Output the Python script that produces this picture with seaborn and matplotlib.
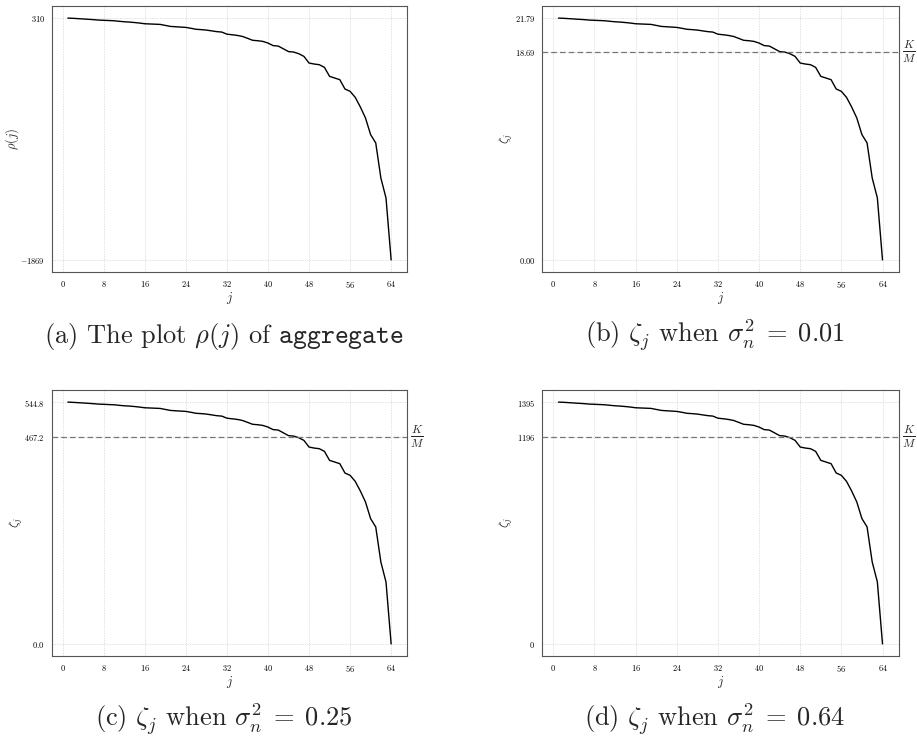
import matplotlib
matplotlib.use("Agg")
import matplotlib.pyplot as plt
import seaborn as sns
import numpy as np
import pandas as pd

j = list(range(1, 65))

rho = [310, 308, 305, 302, 299, 296, 292, 290, 288, 286, 281, 277, 274, 270, 265, 259,
       257, 255, 253, 244, 235, 232, 229, 226, 218, 209, 206, 202, 195, 188, 184, 165,
       160, 154, 145, 128, 110, 106, 100, 85, 62, 58, 33, 8, 4, -11, -35, -95,
       -104, -110, -134, -215, -230, -245, -329, -350, -404, -491, -590, -740, -815, -1131,
       -1311, -1869]

zeta_001 = [21.79, 21.77, 21.74, 21.71, 21.68, 21.65, 21.61, 21.59, 21.57, 21.55, 21.50, 21.46,
            21.43, 21.39, 21.34, 21.28, 21.26, 21.24, 21.22, 21.13, 21.04, 21.01, 20.98, 20.95,
            20.87, 20.78, 20.75, 20.71, 20.64, 20.57, 20.53, 20.34, 20.29, 20.23, 20.14, 19.97,
            19.79, 19.75, 19.69, 19.54, 19.31, 19.27, 19.02, 18.77, 18.73, 18.58, 18.34, 17.74,
            17.65, 17.59, 17.35, 16.54, 16.39, 16.24, 15.40, 15.19, 14.65, 13.78, 12.79, 11.29,
            10.54, 7.38, 5.58, 0.00]

zeta_025 = [544.8, 544.2, 543.5, 542.8, 542.0, 541.2, 540.2, 539.8, 539.2, 538.8, 537.5, 536.5,
            535.8, 534.8, 533.5, 532.0, 531.5, 531.0, 530.5, 528.2, 526.0, 525.2, 524.5, 523.8,
            521.8, 519.5, 518.8, 517.8, 516.0, 514.2, 513.2, 508.5, 507.2, 505.8, 503.5, 499.2,
            494.8, 493.8, 492.2, 488.5, 482.8, 481.8, 475.5, 469.2, 468.2, 464.5, 458.5, 443.5,
            441.2, 439.8, 433.8, 413.5, 409.8, 406.0, 385.0, 379.8, 366.2, 344.5, 319.8, 282.2,
            263.5, 184.5, 139.5, 0.0]

zeta_064 = [1394.6, 1393.3, 1391.4, 1389.4, 1387.5, 1385.6, 1383.0, 1381.8, 1380.5, 1379.2,
            1376.0, 1373.4, 1371.5, 1369.0, 1365.8, 1361.9, 1360.6, 1359.4, 1358.1, 1352.3,
            1346.6, 1344.6, 1342.7, 1340.8, 1335.7, 1329.9, 1328.0, 1325.4, 1321.0, 1316.5,
            1313.9, 1301.8, 1298.6, 1294.7, 1289.0, 1278.1, 1266.6, 1264.0, 1260.2, 1250.6,
            1235.8, 1233.3, 1217.3, 1201.3, 1198.7, 1189.1, 1173.8, 1135.4, 1129.6, 1125.8,
            1110.4, 1058.6, 1049.0, 1039.4, 985.6, 972.2, 937.6, 881.9, 818.6, 722.6,
            674.6, 472.3, 357.1, 0.0]

km_levels = [None, 18.69, 467.2, 1196]
yticks = [[-1869, 310], [0.0, 18.69, 21.79], [0.0, 467.2, 544.8], [0, 1196, 1395]]
ytick_labels = [[r"$-1869$", r"$310$"], [r"$0.00$", r"$18.69$", r"$21.79$"],
                [r"$0.0$", r"$467.2$", r"$544.8$"], [r"$0$", r"$1196$", r"$1395$"]]
xticks = [0, 8, 16, 24, 32, 40, 48, 56, 64]
ylabels = [r"$\rho(j)$", r"$\zeta_j$", r"$\zeta_j$", r"$\zeta_j$"]
captions = [r"(a) The plot $\rho(j)$ of $\mathtt{aggregate}$",
            r"(b) $\zeta_j$ when $\sigma_n^2\;=\;0.01$",
            r"(c) $\zeta_j$ when $\sigma_n^2\;=\;0.25$",
            r"(d) $\zeta_j$ when $\sigma_n^2\;=\;0.64$"]
series = [rho, zeta_001, zeta_025, zeta_064]

sns.set_theme(style="whitegrid")
plt.rcParams["mathtext.fontset"] = "cm"
plt.rcParams["font.family"] = ["cmr10", "DejaVu Sans"]
plt.rcParams["axes.unicode_minus"] = False

W, H = 917, 740
fig = plt.figure(figsize=(W / 100, H / 100), dpi=100)
fig.patch.set_facecolor("white")

# pixel boxes: left, top, right, bottom
boxes = [(51.7, 6, 407.3, 272), (542.3, 6, 898.7, 272),
         (51.7, 390, 407.3, 656), (542.3, 390, 898.7, 656)]
label_x = [-0.086, -0.077, -0.075, -0.077]
cap_base = [343, 343, 727, 727]

for i in range(4):
    l, t, r, b = boxes[i]
    ax = fig.add_axes([l / W, 1 - b / H, (r - l) / W, (b - t) / H])
    df = pd.DataFrame({"j": j, "v": series[i]})
    sns.lineplot(data=df, x="j", y="v", ax=ax, color="black", linewidth=1.0)
    if km_levels[i] is not None:
        ax.axhline(km_levels[i], color="#777777", linestyle=(0, (4.5, 2.5)), linewidth=0.9, zorder=3)
        ax.text(1.008, km_levels[i], r"$\frac{K}{M}$", transform=ax.get_yaxis_transform(),
                ha="left", va="center", fontsize=12)
    ax.set_xticks(xticks)
    ax.set_xticklabels([f"${x}$" for x in xticks])
    ax.set_yticks(yticks[i])
    ax.set_yticklabels(ytick_labels[i])
    ax.tick_params(axis="both", which="major", labelsize=6, length=3, width=0.5,
                   direction="out", pad=2, colors="#333333", labelcolor="black")
    ax.grid(True, color="#d8d8d8", linestyle=(0, (1.5, 1.5)), linewidth=0.6)
    for s in ax.spines.values():
        s.set_color("#555555")
        s.set_linewidth(0.8)
    ax.set_xlabel(r"$j$", fontsize=9)
    ax.set_ylabel(ylabels[i], fontsize=9)
    ax.xaxis.set_label_coords(0.5, -0.068)
    ax.yaxis.set_label_coords(label_x[i], 0.5)
    fig.text(((l + r) / 2 - 6) / W, 1 - cap_base[i] / H, captions[i], ha="center", va="baseline",
             fontsize=19)

fig.savefig("out.png", dpi=100, facecolor="white")
